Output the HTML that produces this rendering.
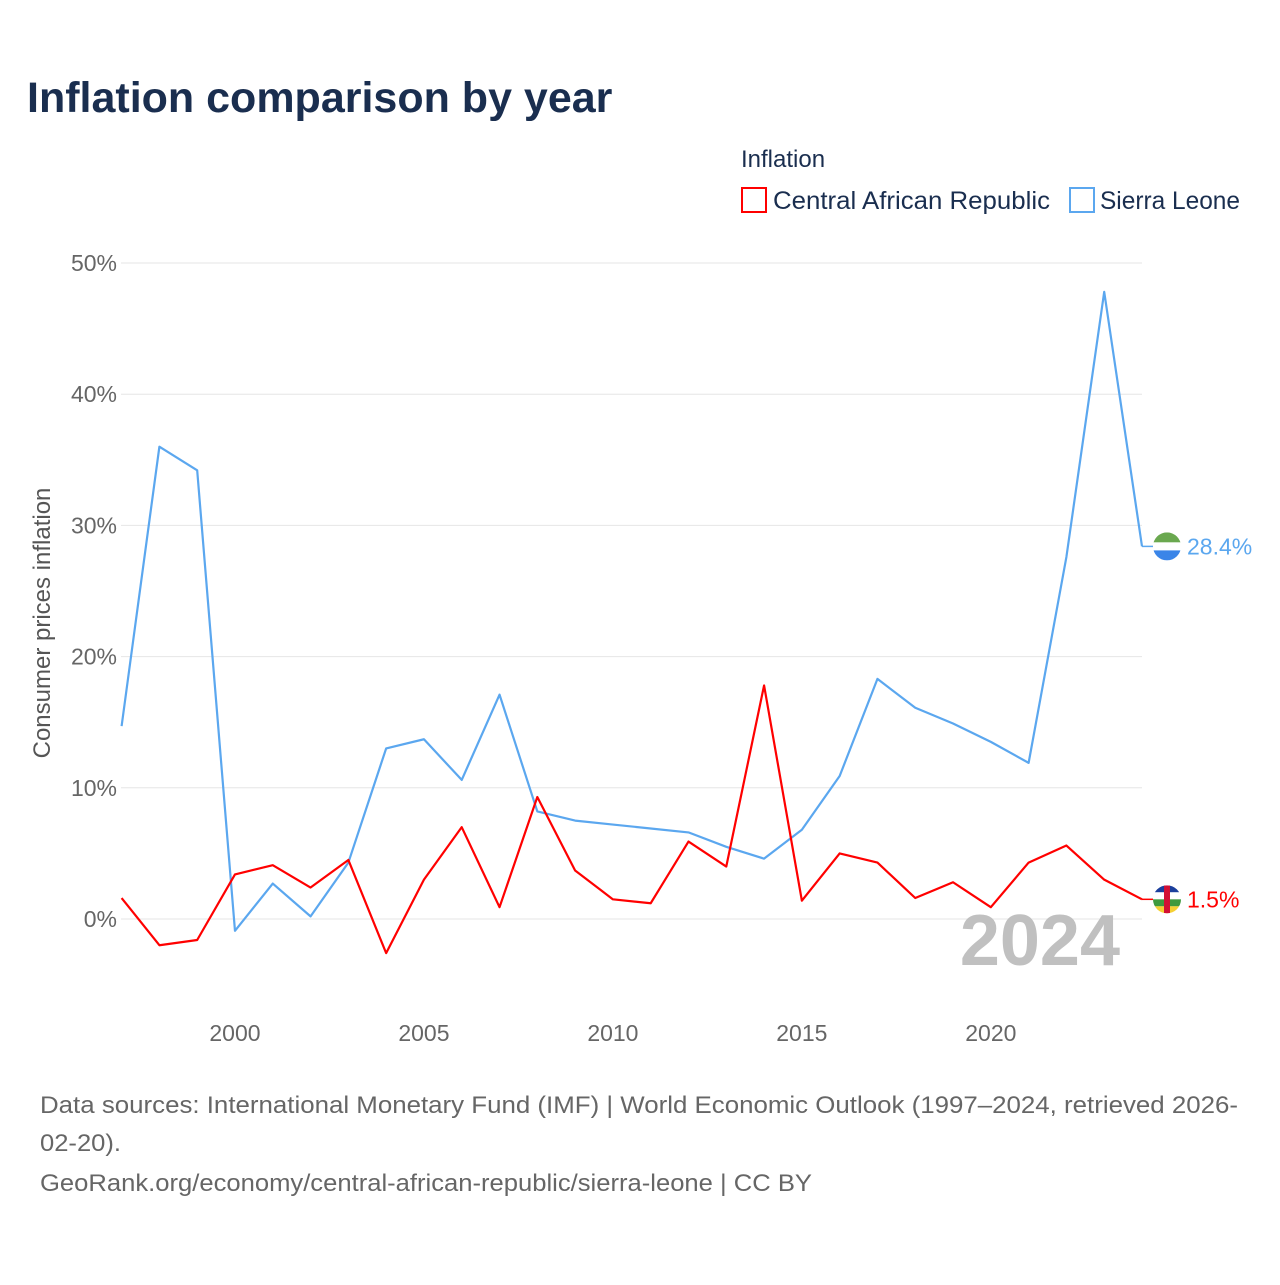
<!DOCTYPE html>
<html><head><meta charset="utf-8"><style>
body{margin:0;background:#fff;font-family:"Liberation Sans",sans-serif}
svg text{font-family:"Liberation Sans",sans-serif}
</style></head><body>
<svg id="chart" width="1280" height="1280" viewBox="0 0 1280 1280" xmlns="http://www.w3.org/2000/svg">
<rect width="1280" height="1280" fill="#fff"/>
<text x="27" y="112" font-size="43" font-weight="bold" fill="#1a2e4f">Inflation comparison by year</text>
<text x="741" y="167" font-size="24" fill="#1a2e4f">Inflation</text>
<g><rect x="742" y="188" width="24" height="24" fill="none" stroke="#ff0000" stroke-width="2"/><text x="773" y="209" font-size="25" fill="#1a2e4f" textLength="277" lengthAdjust="spacingAndGlyphs">Central African Republic</text></g>
<g><rect x="1070" y="188" width="24" height="24" fill="none" stroke="#5ba7ef" stroke-width="2"/><text x="1100" y="209" font-size="25" fill="#1a2e4f" textLength="140" lengthAdjust="spacingAndGlyphs">Sierra Leone</text></g>
<text transform="translate(50,623) rotate(-90)" text-anchor="middle" font-size="24" fill="#555">Consumer prices inflation</text>
<g id="grid"></g><g id="xt"></g>
<text x="1120" y="965" text-anchor="end" font-size="72" font-weight="bold" fill="#c0c0c0">2024</text>
<g id="series"></g>
<text font-size="24" fill="#666"><tspan x="40" y="1113" textLength="1198" lengthAdjust="spacingAndGlyphs">Data sources: International Monetary Fund (IMF) | World Economic Outlook (1997–2024, retrieved 2026-</tspan><tspan x="40" y="1151" textLength="81" lengthAdjust="spacingAndGlyphs">02-20).</tspan><tspan x="40" y="1191" textLength="772" lengthAdjust="spacingAndGlyphs">GeoRank.org/economy/central-african-republic/sierra-leone | CC BY</tspan></text>
</svg>
<script>
const years=[1997,1998,1999,2000,2001,2002,2003,2004,2005,2006,2007,2008,2009,2010,2011,2012,2013,2014,2015,2016,2017,2018,2019,2020,2021,2022,2023,2024];
const sierraLeone=[14.7,36.0,34.2,-0.9,2.7,0.2,4.3,13.0,13.7,10.6,17.1,8.2,7.5,7.2,6.9,6.6,5.5,4.6,6.8,10.9,18.3,16.1,14.9,13.5,11.9,27.6,47.8,28.4];
const car=[1.6,-2.0,-1.6,3.4,4.1,2.4,4.5,-2.6,3.0,7.0,0.9,9.3,3.7,1.5,1.2,5.9,4.0,17.8,1.4,5.0,4.3,1.6,2.8,0.9,4.3,5.6,3.0,1.5];
const yTicks=[0,10,20,30,40,50];
const xTicks=[2000,2005,2010,2015,2020];
const NS="http://www.w3.org/2000/svg";
const X=y=>121.6+(y-1997)*(1142-121.6)/27;
const Y=v=>919-v*13.12;
function mk(t,a,p){const e=document.createElementNS(NS,t);for(const k in a)e.setAttribute(k,a[k]);p.appendChild(e);return e;}
const grid=document.getElementById('grid');
yTicks.forEach(v=>{
 const l=mk('line',{x1:121,x2:1142,y1:Y(v),y2:Y(v),stroke:'#e6e6e6','stroke-width':1},grid);
 
 
 const t=mk('text',{x:117,y:Y(v)+8,'text-anchor':'end','font-size':23,fill:'#666'},grid);
 
 
 t.textContent=v+'%';
});
const xt=document.getElementById('xt');
xTicks.forEach(y=>{
 const t=mk('text',{x:X(y),y:1041,'text-anchor':'middle','font-size':23,fill:'#666'},xt);
 
 
 t.textContent=y;
});
const sg=document.getElementById('series');
function series(vals,color,name,flag){
 const p=mk('polyline',{points:vals.map((v,i)=>X(years[i])+','+Y(v)).join(' '),fill:'none',stroke:color,'stroke-width':2.2,'stroke-linejoin':'round'},sg);
 
 
 const last=vals[vals.length-1], ly=Y(last);
 const g=mk('g',{},sg);
 
 
 mk('line',{x1:X(2024),x2:1153,y1:ly,y2:ly,stroke:color,'stroke-width':1.5},g);
 flag(g,1167,ly);
 const t=mk('text',{x:1187,y:ly+8,'font-size':23,fill:color},g);
 
 
 t.textContent=last.toFixed(1)+'%';
}
series(sierraLeone,'#5ba7ef','sierra-leone',(g,cx,cy)=>{
 const cp=mk('clipPath',{id:'c1'},g);mk('circle',{cx:cx,cy:cy,r:14},cp);
 const h=mk('g',{'clip-path':'url(#c1)'},g);
 mk('rect',{x:cx-14,y:cy-14,width:28,height:10,fill:'#6aa84f'},h);
 mk('rect',{x:cx-14,y:cy-4,width:28,height:8,fill:'#fff'},h);
 mk('rect',{x:cx-14,y:cy+4,width:28,height:10,fill:'#3a85e8'},h);
});
series(car,'#ff0000','car',(g,cx,cy)=>{
 const cp=mk('clipPath',{id:'c2'},g);mk('circle',{cx:cx,cy:cy,r:14},cp);
 const h=mk('g',{'clip-path':'url(#c2)'},g);
 const c=['#1c3f9c','#fff','#3e9a3e','#f5d033'];
 c.forEach((f,i)=>mk('rect',{x:cx-14,y:cy-14+i*7,width:28,height:7,fill:f},h));
 mk('rect',{x:cx-3,y:cy-14,width:6,height:28,fill:'#d21034'},h);
});
</script>
</body></html>
